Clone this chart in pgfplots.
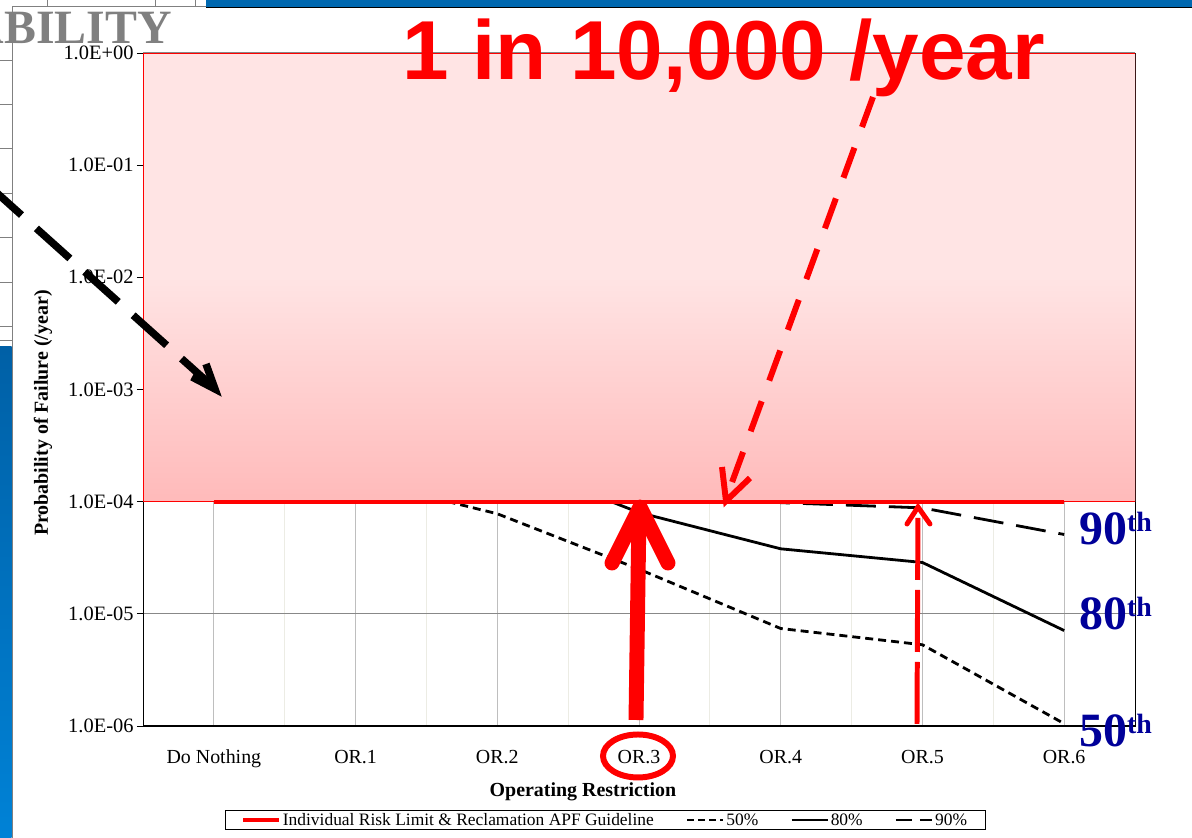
\documentclass[border=0pt]{standalone}
\usepackage{pgfplots}
\pgfplotsset{compat=1.18}
\usepackage{fontspec}
\setmainfont{Liberation Serif}
\newfontfamily\arialfont{Liberation Sans}
\definecolor{fillTop}{RGB}{255,228,228}
\definecolor{fillBot}{RGB}{255,186,186}
\definecolor{lblue}{RGB}{0,0,153}
\definecolor{slideblue}{RGB}{0,104,176}
\definecolor{stripTop}{RGB}{0,96,166}
\definecolor{stripBot}{RGB}{0,130,214}
\definecolor{gridA}{RGB}{190,190,190}
\definecolor{gridB}{RGB}{236,236,228}
\definecolor{gridY}{RGB}{136,136,136}
\definecolor{titlegray}{RGB}{128,128,128}

\begin{document}
\begin{tikzpicture}
\useasboundingbox (0,0) rectangle (1192bp,838bp);
% ---- slide background pieces ----
\begin{scope}[x=1bp,y=-1bp,shift={(0,838bp)}]
  \fill[slideblue] (206,0) rectangle (1192,7);
  \draw[black,line width=0.8] (206,7.5)--(1192,7.5);
  \draw[gray,line width=0.8] (47,0)--(47,7) (155,0)--(155,7) (195,0)--(195,7);
  \foreach \yy in {60,104,148,193,237,282,326,340}{\draw[gray,line width=0.8] (0,\yy)--(12,\yy);}
  \shade[top color=stripTop,bottom color=stripBot] (0,347) rectangle (11.5,838);
  \draw[gray,line width=1] (12,838)--(12,7)--(206,7);
\end{scope}

\begin{axis}[
  at={(143bp,112bp)}, anchor=south west,
  scale only axis, width=992bp, height=673bp,
  xmin=0, xmax=7,
  ymode=log, ymin=1e-6, ymax=1,
  xtick={0.5,1.5,...,6.5},
  xticklabels={Do Nothing,OR.1,OR.2,OR.3,OR.4,OR.5,OR.6},
  minor xtick={0,1,...,7},
  ytick={1e-6,1e-5,1e-4,1e-3,1e-2,1e-1,1},
  yticklabels={1.0E-06,1.0E-05,1.0E-04,1.0E-03,1.0E-02,1.0E-01,1.0E+00},
  yminorticks=false,
  tick pos=left,
  tick align=outside,
  major tick length=6bp, minor tick length=6bp,
  xtick style={draw=none},
  minor x tick style={black,line width=1bp},
  ytick style={black,line width=1bp},
  xmajorgrids, xminorgrids, ymajorgrids,
  major x grid style={gridA,line width=1bp},
  minor x grid style={gridB,line width=1bp},
  major y grid style={gridY,line width=1.3bp},
  axis line style={black,line width=1bp},
  xticklabel style={font=\fontsize{20}{22}\selectfont, anchor=base, yshift=-32bp},
  yticklabel style={font=\fontsize{20.5}{22}\selectfont},
  xlabel={Operating Restriction},
  xlabel style={font=\bfseries\fontsize{20}{22}\selectfont, anchor=base, at={(axis description cs:0.4435,0)}, yshift=-70bp},
  ylabel={Probability of Failure (/year)},
  ylabel style={font=\bfseries\fontsize{20}{22}\selectfont, anchor=center, at={(axis description cs:0,0.465)}, yshift=100bp},
  legend style={at={(0.466,-0.1397)}, anchor=center, draw=black, line width=0.8bp,
    font=\fontsize{17.5}{19}\selectfont, inner ysep=1bp, inner xsep=16bp,
    /tikz/every even column/.append style={column sep=30bp}},
  legend columns=4,
  legend image code/.code={\draw[#1] (0bp,0bp) -- (36bp,0bp);},
]
\addlegendimage{red,line width=3.5bp}
\addlegendentry{Individual Risk Limit \& Reclamation APF Guideline}
\addlegendimage{black,line width=2.5bp,dash pattern=on 7bp off 4bp}
\addlegendentry{50\%}
\addlegendimage{black,line width=2.5bp}
\addlegendentry{80\%}
\addlegendimage{black,line width=2.5bp,dash pattern=on 16bp off 8bp}
\addlegendentry{90\%}

% 50th percentile
\addplot[forget plot, black, line width=2.8bp, dash pattern=on 8bp off 5bp] coordinates {
 (0.5,5e-4) (1.5,1.6e-4) (2.5,7.8e-5) (3.5,2.5e-5) (4.5,7.4e-6) (5.5,5.3e-6) (6.5,1.05e-6)};
% 80th percentile
\addplot[forget plot, black, line width=2.8bp] coordinates {
 (0.5,8e-4) (1.5,5e-4) (2.5,2.5e-4) (3.5,8.0e-5) (4.5,3.8e-5) (5.5,2.87e-5) (6.5,7.1e-6)};
% 90th percentile
\addplot[forget plot, black, line width=2.8bp, dash pattern=on 30bp off 13bp] coordinates {
 (0.5,1e-3) (1.5,7e-4) (2.5,4e-4) (3.5,1.5e-4) (4.5,9.8e-5) (5.5,8.8e-5) (6.5,5.1e-5)};
% shaded region above the limit
\addplot[forget plot, draw=red, line width=1bp, top color=fillTop, bottom color=fillBot, middle color=fillTop]
 coordinates {(0,1e-4) (0,1) (7,1) (7,1e-4)} -- cycle;
% individual risk limit
\addplot[forget plot, red, line width=4bp] coordinates {
 (0.5,1e-4) (1.5,1e-4) (2.5,1e-4) (3.5,1e-4) (4.5,1e-4) (5.5,1e-4) (6.5,1e-4)};
\draw[black,line width=2.6bp] (rel axis cs:0,0) -- (rel axis cs:1,0);
\end{axis}

% ---- annotations ----
\begin{scope}[x=1bp,y=-1bp,shift={(0,838bp)}]
  % black dashed arrow from left
  \draw[black,line width=7.5,dash pattern=on 45bp off 20bp] (-12,185) -- (212,386);
  \draw[black,line width=7.5,line join=miter] (192,377) -- (215,389) -- (206,364);
  % red dashed arrow from title
  \draw[red,line width=6,dash pattern=on 32bp off 22bp] (873,97) -- (727,496);
  \draw[red,line width=6,line join=miter] (722,467) -- (726,501) -- (750,478);
  % thin red dashed arrow at OR.5
  \draw[red,line width=5,dash pattern=on 62bp off 10bp] (917,724) -- (918,508);
  \draw[red,line width=5,line cap=round,line join=miter] (907,524) -- (918,507) -- (930,524);
  % big red arrow at OR.3
  \draw[red,line width=15] (636,720) -- (639,512);
  \draw[red,line width=15,line cap=round,line join=round] (612,563) -- (640,507) -- (668,563);
  \draw[red,line width=6] (638,756) ellipse [x radius=35bp, y radius=21.5bp];
  % texts
  \node[anchor=base,inner sep=0,text=red,font=\arialfont\bfseries\fontsize{84}{84}\selectfont] at (724,80) {1 in 10,000 /year};
  \node[anchor=base east,inner sep=0,text=titlegray,font=\bfseries\fontsize{48}{48}\selectfont] at (172,44) {PROBABILITY};
  \node[anchor=base west,inner sep=0,text=lblue,font=\bfseries\fontsize{48}{48}\selectfont] at (1079,545) {90\raisebox{13bp}{\fontsize{28}{28}\selectfont th}};
  \node[anchor=base west,inner sep=0,text=lblue,font=\bfseries\fontsize{48}{48}\selectfont] at (1079,630) {80\raisebox{13bp}{\fontsize{28}{28}\selectfont th}};
  \node[anchor=base west,inner sep=0,text=lblue,font=\bfseries\fontsize{48}{48}\selectfont] at (1079,747) {50\raisebox{13bp}{\fontsize{28}{28}\selectfont th}};
\end{scope}
\end{tikzpicture}
\end{document}
